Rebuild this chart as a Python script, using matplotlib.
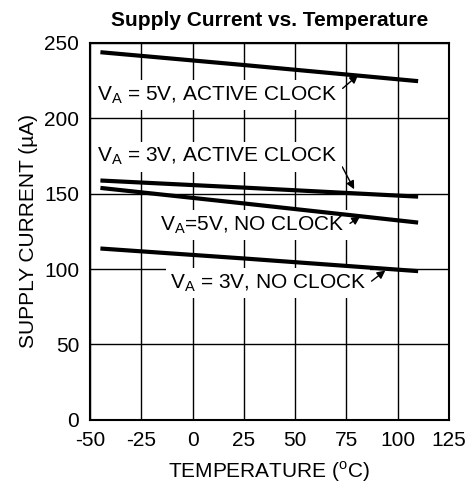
import matplotlib
matplotlib.use('Agg')
import matplotlib.pyplot as plt

plt.rcParams['font.family'] = ['Liberation Sans', 'DejaVu Sans']
plt.rcParams['mathtext.fontset'] = 'custom'
plt.rcParams['mathtext.rm'] = 'Liberation Sans'
plt.rcParams['axes.unicode_minus'] = False

# Data
temp = [-45, 25, 110]
i_5v_active = [243.8, 235.3, 224.6]
i_3v_active = [158.7, 154.0, 148.0]
i_5v_noclk = [153.8, 143.5, 130.8]
i_3v_noclk = [113.6, 107.0, 98.6]

xticks = [-50, -25, 0, 25, 50, 75, 100, 125]
yticks = [0, 50, 100, 150, 200, 250]

fig = plt.figure(figsize=(4.72, 4.87), dpi=100)
ax = fig.add_axes([0.191, 0.138, 0.760, 0.774])

# curves drawn above the label boxes
for ys in [i_5v_active, i_3v_active, i_5v_noclk, i_3v_noclk]:
    ax.plot(temp, ys, color='black', linewidth=3, solid_capstyle='butt', zorder=5)

ax.set_xlim(-50, 125)
ax.set_ylim(0, 250)
ax.set_xticks(xticks)
ax.set_yticks(yticks)
ax.grid(True, color='black', linewidth=1.0)
ax.tick_params(length=0, labelsize=15, pad=8)
for s in ax.spines.values():
    s.set_linewidth(1.5)

ax.set_title('Supply Current vs. Temperature', fontsize=15, fontweight='bold', pad=12)
ax.set_xlabel(r'TEMPERATURE ($^{\rm o}$C)', fontsize=15, labelpad=7)
ax.set_ylabel('SUPPLY CURRENT (µA)', fontsize=15, labelpad=4)

box = dict(facecolor='white', edgecolor='none', pad=3)


def arrow(rel):
    return dict(arrowstyle='-|>', color='black', lw=1, mutation_scale=12,
                shrinkA=1, shrinkB=0, relpos=rel)


ax.annotate(r'V$_{\rm A}$ = 5V, ACTIVE CLOCK', xy=(80.7, 228.6), xytext=(-46.6, 215.4),
            fontsize=15, va='center', ha='left', bbox=box, arrowprops=arrow((1, 0.6)), zorder=4)
ax.annotate(r'V$_{\rm A}$ = 3V, ACTIVE CLOCK', xy=(78.8, 152.9), xytext=(-46.6, 174.5),
            fontsize=15, va='center', ha='left', bbox=box, arrowprops=arrow((1, 0.45)), zorder=4)
ax.annotate(r'V$_{\rm A}$=5V, NO CLOCK', xy=(81.7, 134.8), xytext=(-15.9, 129.3),
            fontsize=15, va='center', ha='left', bbox=box, arrowprops=arrow((1, 0.4)), zorder=4)
ax.annotate(r'V$_{\rm A}$ = 3V, NO CLOCK', xy=(94, 99), xytext=(-11, 90.7),
            fontsize=15, va='center', ha='left', bbox=box, arrowprops=arrow((1, 0.4)), zorder=4)

fig.savefig('out.png', dpi=100)
